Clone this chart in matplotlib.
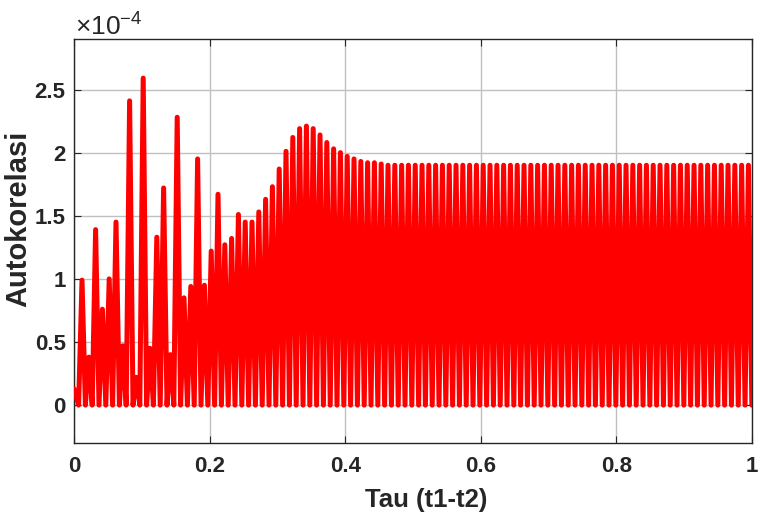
import matplotlib
matplotlib.use("Agg")
import matplotlib.pyplot as plt
import numpy as np

# ---- data (values in units of 1e-4) ----
start_tau = 0.0
start_value = 0.13
first_peak_tau = 0.0118
cycle_period = 0.01003
trough_level = 0.0
peak_heights_e4 = [
    0.99, 0.38, 1.39, 0.76, 1.00, 1.45, 0.47, 2.41, 0.22, 2.59,
    0.45, 1.33, 1.72, 0.40, 2.28, 0.85, 0.94, 1.95, 0.95, 1.22,
    1.67, 1.27, 1.32, 1.51, 1.45, 1.45, 1.53, 1.63, 1.73, 1.87,
    2.01, 2.12, 2.19, 2.21, 2.19, 2.14, 2.08, 2.03, 2.00, 1.97,
    1.95, 1.93, 1.92, 1.92, 1.91, 1.90, 1.90, 1.90, 1.90, 1.90,
    1.90, 1.90, 1.90, 1.90, 1.90, 1.90, 1.90, 1.90, 1.90, 1.90,
    1.90, 1.90, 1.90, 1.90, 1.90, 1.90, 1.90, 1.90, 1.90, 1.90,
    1.90, 1.90, 1.90, 1.90, 1.90, 1.90, 1.90, 1.90, 1.90, 1.90,
    1.90, 1.90, 1.90, 1.90, 1.90, 1.90, 1.90, 1.90, 1.90, 1.90,
    1.90, 1.90, 1.90, 1.90, 1.90, 1.90, 1.90, 1.90, 1.90,
]
x_ticks = [0, 0.2, 0.4, 0.6, 0.8, 1]
x_tick_labels = ["0", "0.2", "0.4", "0.6", "0.8", "1"]
y_ticks = [0, 0.5, 1, 1.5, 2, 2.5]
y_tick_labels = ["0", "0.5", "1", "1.5", "2", "2.5"]
x_label = "Tau (t1-t2)"
y_label = "Autokorelasi"

# ---- build the polyline: start point, then trough/peak alternation ----
xs = [start_tau]
ys = [start_value]
for k, h in enumerate(peak_heights_e4):
    pk = first_peak_tau + k * cycle_period
    xs.append(pk - cycle_period / 2)
    ys.append(trough_level)
    xs.append(pk)
    ys.append(h)
xs.append(first_peak_tau + len(peak_heights_e4) * cycle_period - cycle_period / 2)
ys.append(trough_level)

plt.rcParams['font.family'] = ['Liberation Sans', 'DejaVu Sans']
plt.rcParams['mathtext.fontset'] = 'custom'
plt.rcParams['mathtext.rm'] = 'Liberation Sans'

fig = plt.figure(figsize=(7.58, 5.19), dpi=100)
ax = fig.add_axes([74 / 758, 1 - 443 / 519, 678 / 758, 404 / 519])

ax.plot(xs, ys, color='#ff0000', linewidth=3.6,
        solid_joinstyle='round', solid_capstyle='round', zorder=3)

ax.set_xlim(0, 1)
ax.set_ylim(-0.3, 2.9)
ax.set_xticks(x_ticks)
ax.set_xticklabels(x_tick_labels)
ax.set_yticks(y_ticks)
ax.set_yticklabels(y_tick_labels)

ax.grid(True, color='#c0c0c0', linewidth=1.0, zorder=0)
ax.set_axisbelow(True)
for s in ax.spines.values():
    s.set_color('#262626')
    s.set_linewidth(1.0)
ax.tick_params(direction='in', length=5, width=0.8, colors='#262626',
               top=True, right=True, labelsize=16)
ax.tick_params(axis='x', pad=9)
ax.tick_params(axis='y', pad=6)
for lbl in ax.get_xticklabels() + ax.get_yticklabels():
    lbl.set_fontweight('bold')
    lbl.set_color('#262626')

ax.set_xlabel(x_label, fontsize=18.5, fontweight='bold', color='#262626')
ax.xaxis.set_label_coords(0.519, -0.112)
ax.set_ylabel(y_label, fontsize=21, fontweight='bold', color='#262626')
ax.yaxis.set_label_coords(-0.062, 0.555)

fig.text(75 / 758, 1 - 36 / 519, r'$\mathregular{\times10^{-4}}$',
         fontsize=19, color='#262626', ha='left', va='baseline')

fig.savefig('out.png', dpi=100)
